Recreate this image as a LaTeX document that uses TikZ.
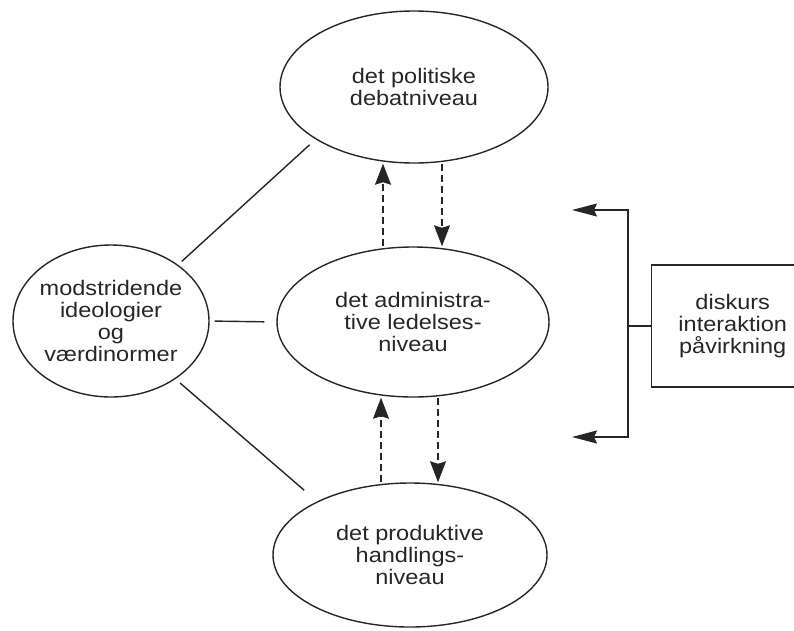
\documentclass[tikz,border=0pt]{standalone}
\usepackage{fontspec}
\setmainfont{Liberation Sans}[FakeStretch=1.12]
\usetikzlibrary{shapes.geometric,arrows.meta,calc}
\begin{document}
\begin{tikzpicture}[x=1pt,y=-1pt,
  ink/.style={draw=black!85, line width=1.4pt},
  txt/.style={align=center, text=black!85, font=\fontsize{21}{22}\selectfont},
  level/.style={ellipse, ink, txt, inner sep=0pt},
  link/.style={ink},
  flow/.style={ink, dash pattern=on 7pt off 4pt,
    -{Stealth[length=21pt,width=16pt,inset=2.5pt]}},
  bracket/.style={ink, {Stealth[length=25pt,width=13pt,inset=3pt]}-{Stealth[length=25pt,width=13pt,inset=3pt]}}
]
\useasboundingbox (0,0) rectangle (794,630);
\clip (0,0) rectangle (794,630);

% the three levels and the source of conflict
\node[level, minimum width=268pt, minimum height=152pt] (top) at (414,87) {det politiske\\debatniveau};
\node[level, minimum width=272pt, minimum height=150pt] (mid) at (413,322) {det administra-\\tive ledelses-\\niveau};
\node[level, minimum width=274pt, minimum height=144pt] (bot) at (410,555) {det produktive\\handlings-\\niveau};
\node[level, minimum width=196pt, minimum height=152pt, inner xsep=-12pt] (src) at (111,321) {modstridende\\ideologier\\og\\værdinormer};

% the box on the right (runs past the edge)
\node[ink, txt, rectangle, minimum width=162pt, minimum height=122pt, anchor=west] (box) at (651,326) {diskurs\\interaktion\\påvirkning};

% plain links from the left ellipse
\draw[link, shorten <=5pt, shorten >=8pt] (src.40) -- (top.208);
\draw[link, shorten <=5pt, shorten >=12pt] (src.east) -- (mid.west);
\draw[link, shorten <=6pt, shorten >=17pt] (src.-42) -- (bot.150);

% dashed up/down arrows between levels
\coordinate (c1) at (383,0);
\coordinate (c2) at (442,0);
\coordinate (c3) at (381,0);
\coordinate (c4) at (438,0);
\draw[flow] (mid.north -| c1) -- (top.south -| c1);
\draw[flow] (top.south -| c2) -- (mid.north -| c2);
\draw[flow] (bot.north -| c3) -- (mid.south -| c3);
\draw[flow] (mid.south -| c4) -- (bot.north -| c4);

% bracket from the box
\coordinate (bt) at (628,210);
\coordinate (bb) at (628,437);
\coordinate (tt) at (572,210);
\coordinate (tb) at (572,437);
\draw[ink] (box.west) -- (box.west -| bt);
\draw[bracket] (tt) -- (bt) -- (bb) -- (tb);
\end{tikzpicture}
\end{document}
